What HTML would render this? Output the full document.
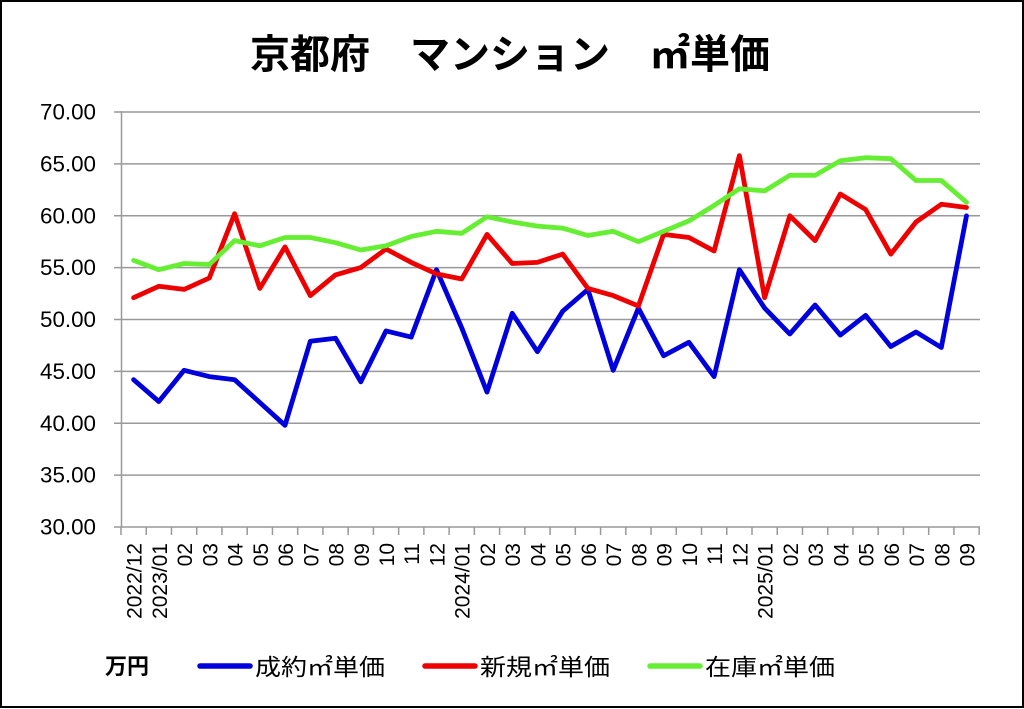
<!DOCTYPE html>
<html><head><meta charset="utf-8"><style>
html,body{margin:0;padding:0;background:#fff}
svg{display:block}
text{font-family:"Liberation Sans","Noto Sans CJK JP",sans-serif}
</style></head><body>
<svg id="s" width="1024" height="709" viewBox="0 0 1024 709" xmlns="http://www.w3.org/2000/svg">
<rect x="1" y="1" width="1022" height="706" fill="#fff" stroke="#000" stroke-width="2"/>
<text x="510" y="68" text-anchor="middle" font-size="40" font-weight="bold" xml:space="preserve">京都府　マンション　㎡単価</text>
<g id="grid"></g>
<g id="lines"></g>
<g font-size="23">
<text x="105" y="674" font-weight="bold" font-size="22">万円</text>
<line x1="200" y1="666" x2="250" y2="666" stroke="#0000dd" stroke-width="5.5" stroke-linecap="round"/>
<text x="255" y="675" textLength="130" lengthAdjust="spacingAndGlyphs">成約㎡単価</text>
<line x1="425" y1="666" x2="475" y2="666" stroke="#ee0000" stroke-width="5.5" stroke-linecap="round"/>
<text x="480" y="675" textLength="130" lengthAdjust="spacingAndGlyphs">新規㎡単価</text>
<line x1="650" y1="666" x2="700" y2="666" stroke="#66ee33" stroke-width="5.5" stroke-linecap="round"/>
<text x="705" y="675" textLength="130" lengthAdjust="spacingAndGlyphs">在庫㎡単価</text>
</g>
</svg>
<script>
const ns="http://www.w3.org/2000/svg";
const g=document.getElementById("grid"),L=document.getElementById("lines");
function el(p,t,a,txt){const e=document.createElementNS(ns,t);for(const k in a)e.setAttribute(k,a[k]);if(txt!==undefined)e.textContent=txt;p.appendChild(e);return e;}
const Y=v=>527-(v-30)*10.375, X=i=>133.6+25.24*i;
for(let v=30;v<=70;v+=5){const y=Y(v);el(g,"line",{x1:114,x2:980,y1:y,y2:y,stroke:"#999","stroke-width":1.5});
el(g,"text",{x:96,y:y+7.5,"text-anchor":"end","font-size":22,textLength:56,lengthAdjust:"spacingAndGlyphs"},v.toFixed(2));}
el(g,"line",{x1:121.5,x2:121.5,y1:111,y2:527,stroke:"#999","stroke-width":1.5});
for(let i=0;i<=34;i++){const x=121+25.24*i;el(g,"line",{x1:x,x2:x,y1:527,y2:535,stroke:"#999","stroke-width":1.5});}
const labs=["2022/12","2023/01","02","03","04","05","06","07","08","09","10","11","12","2024/01","02","03","04","05","06","07","08","09","10","11","12","2025/01","02","03","04","05","06","07","08","09"];
labs.forEach((t,i)=>{const x=X(i)+8;el(g,"text",{x:x,y:543,"text-anchor":"end","font-size":21,transform:`rotate(-90 ${x} 543)`},t);});
const B=[44.2,42.1,45.1,44.5,44.2,42.0,39.8,47.9,48.2,44.0,48.9,48.3,54.8,49.2,43.0,50.6,46.9,50.8,52.9,45.1,51.1,46.5,47.8,44.5,54.8,51.1,48.6,51.4,48.5,50.4,47.4,48.8,47.3,60.0];
const R=[52.1,53.2,52.9,54.0,60.2,53.0,57.0,52.3,54.3,55.0,56.8,55.5,54.4,53.9,58.2,55.4,55.5,56.3,53.0,52.3,51.3,58.2,57.9,56.6,65.8,52.1,60.0,57.6,62.1,60.6,56.3,59.4,61.1,60.8];
const G=[55.7,54.8,55.4,55.3,57.6,57.1,57.9,57.9,57.4,56.7,57.1,58.0,58.5,58.3,59.9,59.4,59.0,58.8,58.1,58.5,57.5,58.5,59.5,61.0,62.6,62.4,63.9,63.9,65.3,65.6,65.5,63.4,63.4,61.3];
[[B,"#0000dd"],[R,"#ee0000"],[G,"#66ee33"]].forEach(([d,c])=>{
el(L,"polyline",{points:d.map((v,i)=>X(i).toFixed(1)+","+Y(v).toFixed(1)).join(" "),fill:"none",stroke:c,"stroke-width":4.8,"stroke-linejoin":"round","stroke-linecap":"round"});});
</script>
</body></html>
